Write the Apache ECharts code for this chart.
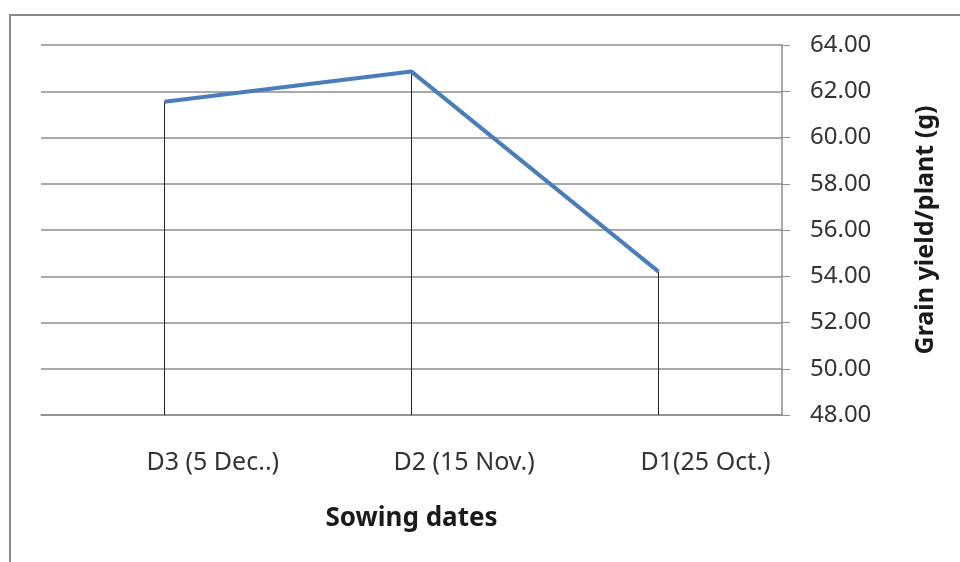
<!DOCTYPE html>
<html>
<head>
<meta charset="utf-8">
<script src="https://cdn.jsdelivr.net/npm/echarts@6/dist/echarts.min.js"></script>
<style>
	html,body{margin:0;padding:0;background:#fff;}
	.frame{position:absolute;left:9px;top:14px;right:-10px;bottom:-10px;border-left:2px solid #8a8a8a;border-top:2px solid #8a8a8a;}
	#main{position:absolute;left:0;top:0;width:960px;height:562px;}
</style>
</head>
<body>
<div class="frame"></div>
<div id="main"></div>
<script type="text/javascript">
// sowing dates and grain yield per plant
var categories = ['D3 (5 Dec..)', 'D2 (15 Nov.)', 'D1(25 Oct.)'];
var grainYield = [61.55, 62.85, 54.2];
var yMin = 48, yMax = 64, yStep = 2;

var myChart = echarts.init(document.getElementById('main'));

var option = {
	animation: false,
	grid: {left: 41, right: 178, top: 45, bottom: 147},
	xAxis: {
		type: 'category',
		data: categories,
		boundaryGap: true,
		name: 'Sowing dates',
		nameLocation: 'middle',
		nameGap: 91,
		nameTextStyle: {fontFamily: 'Noto Sans', fontSize: 26, fontWeight: 'bold', color: '#1a1a1a'},
		axisLine: {show: true, lineStyle: {color: '#8c8c8c', width: 1.5}},
		axisTick: {show: false},
		axisLabel: {
			interval: 0,
			align: 'left',
			padding: [0, 0, 0, -18],
			margin: 35,
			fontFamily: 'Noto Sans',
			fontSize: 25,
			color: '#333'
		}
	},
	yAxis: {
		type: 'value',
		position: 'right',
		min: yMin,
		max: yMax,
		interval: yStep,
		name: 'Grain yield/plant (g)',
		nameLocation: 'middle',
		nameRotate: 90,
		nameGap: 131,
		nameTextStyle: {fontFamily: 'Noto Sans', fontSize: 25, fontWeight: 'bold', color: '#1a1a1a'},
		axisLine: {show: true, lineStyle: {color: '#8c8c8c', width: 1.5}},
		axisTick: {show: true, length: 8, lineStyle: {color: '#8c8c8c'}},
		splitLine: {show: true, lineStyle: {color: '#8c8c8c', width: 1.5}},
		axisLabel: {
			margin: 28,
			fontFamily: 'Noto Sans',
			fontSize: 24,
			color: '#333',
			formatter: function (v) { return v.toFixed(2); }
		}
	},
	series: [
		{
			// drop lines from each point down to the axis
			type: 'bar',
			data: grainYield,
			barWidth: 1,
			itemStyle: {color: '#222'},
			z: 1
		},
		{
			type: 'line',
			data: grainYield,
			symbol: 'none',
			lineStyle: {color: '#4a7ebb', width: 4},
			z: 3
		}
	]
};

myChart.setOption(option);
</script>
</body>
</html>
